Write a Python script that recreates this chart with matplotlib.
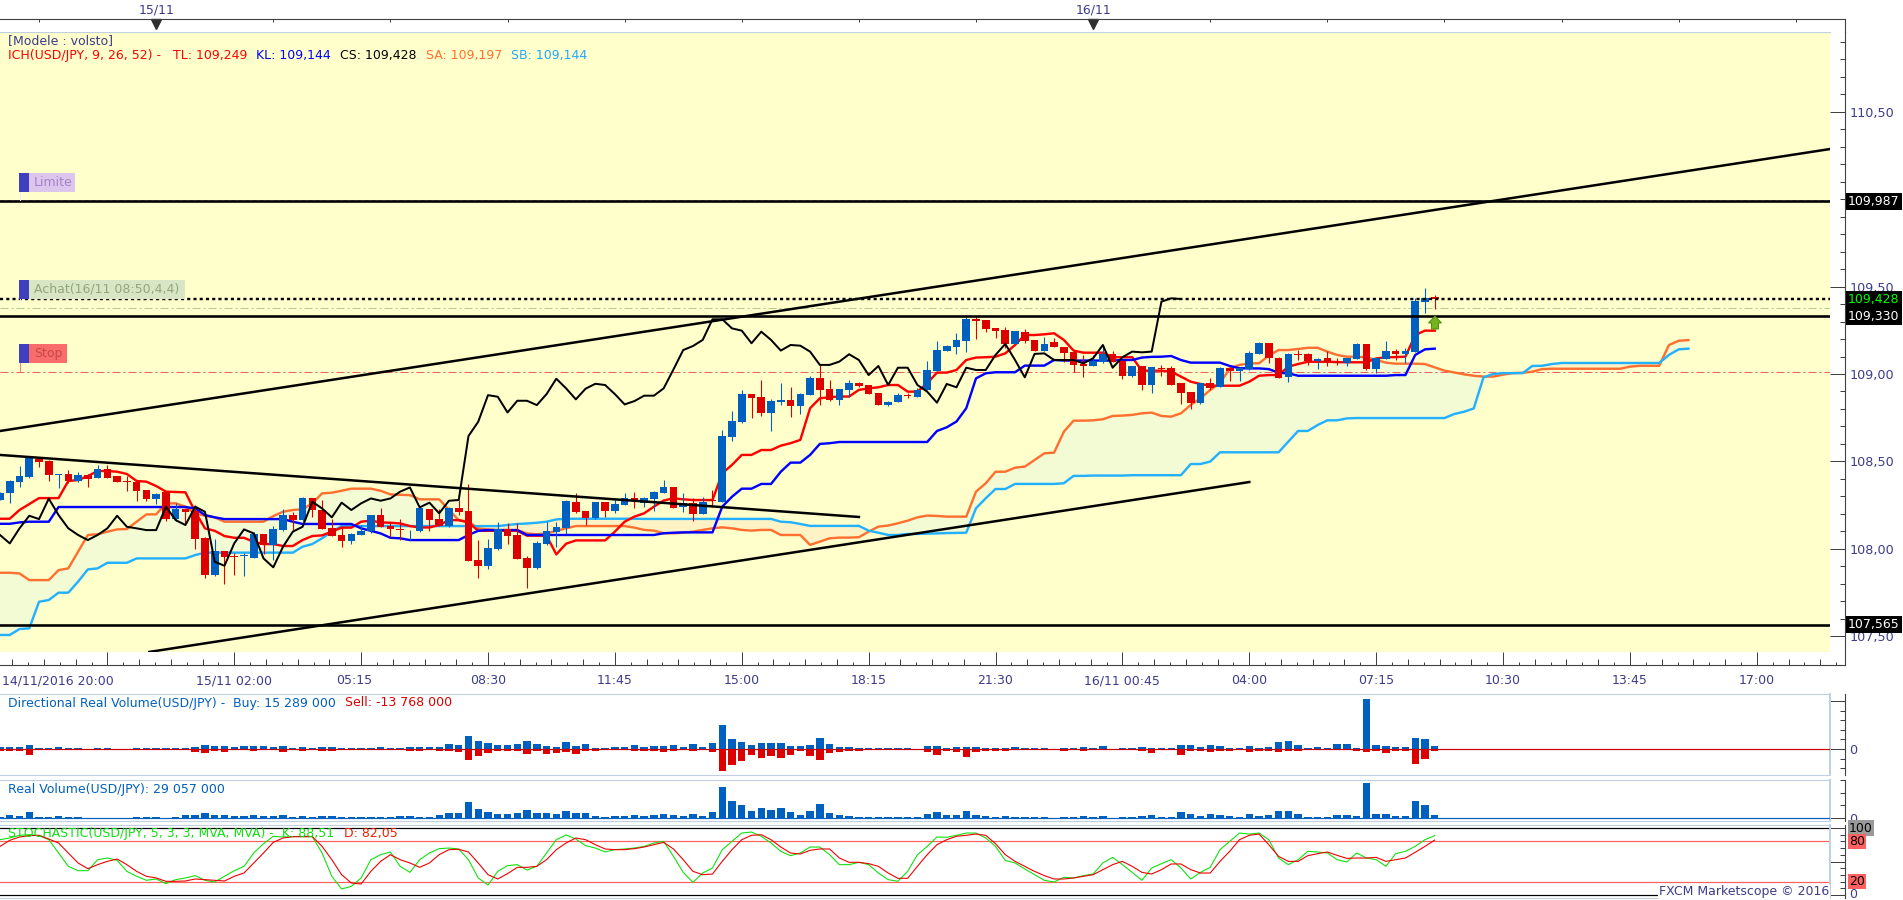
import numpy as np
import matplotlib
matplotlib.use("Agg")
import matplotlib.pyplot as plt
from matplotlib.patches import Rectangle, Polygon

W, H = 1903, 900
plt.rcParams['font.family'] = ['DejaVu Sans']

# ---------------- candles (USD/JPY 15 min) ----------------
candle_dir = ("BBBBRRBRBR" "BRRRRRBRBR" "RRBRRBBRBB" "RBRRRRBBBR" "RRBBRRBRRR"
              "BBRRRBBBBR" "RBRBBRBBBR" "BRBRBBBRRB" "BRBBRRBBRR" "RBBRBBBBBB"
              "RRRRBRRBRR" "RRBBRRBRBR" "RRRBRBRBBB" "RRBRRBRRBB" "RBBRBBBR")
candle_top = [
108.317,108.388,108.416,108.523,108.513,108.502,108.428,108.428,108.420,108.420,
108.454,108.454,108.416,108.388,108.384,108.336,108.313,108.323,108.227,108.227,
108.216,108.061,107.987,107.987,107.959,107.962,108.084,108.084,108.113,108.193,
108.193,108.290,108.290,108.224,108.117,108.079,108.084,108.102,108.191,108.193,
108.130,108.113,108.109,108.233,108.226,108.168,108.235,108.233,108.216,107.936,
108.004,108.111,108.111,108.079,107.947,108.033,108.102,108.124,108.273,108.267,
108.216,108.267,108.267,108.256,108.288,108.288,108.289,108.323,108.352,108.352,
108.264,108.264,108.270,108.279,108.644,108.729,108.884,108.884,108.869,108.846,
108.850,108.850,108.884,108.979,108.975,108.913,108.914,108.947,108.947,108.935,
108.890,108.842,108.878,108.878,108.911,109.021,109.138,109.160,109.193,109.315,
109.313,109.307,109.262,109.250,109.244,109.242,109.195,109.172,109.183,109.153,
109.128,109.059,109.073,109.115,109.115,109.075,109.044,109.044,109.038,109.036,
109.033,108.947,108.897,108.947,108.947,109.036,109.036,109.036,109.118,109.176,
109.176,109.090,109.112,109.116,109.112,109.084,109.089,109.070,109.089,109.170,
109.170,109.089,109.129,109.129,109.129,109.417,109.436,109.438]
candle_bottom = [
108.279,108.321,108.382,108.409,108.496,108.422,108.424,108.388,108.388,108.397,
108.405,108.405,108.382,108.380,108.330,108.285,108.285,108.168,108.168,108.212,
108.058,107.850,107.850,107.953,107.951,107.959,107.949,108.023,108.023,108.107,
108.164,108.164,108.224,108.115,108.073,108.046,108.046,108.081,108.100,108.126,
108.115,108.105,108.105,108.102,108.164,108.132,108.130,108.210,107.932,107.903,
107.903,107.999,108.075,107.943,107.890,107.890,108.027,108.096,108.119,108.210,
108.178,108.176,108.214,108.216,108.252,108.277,108.264,108.283,108.318,108.236,
108.241,108.199,108.199,108.274,108.270,108.640,108.726,108.865,108.777,108.779,
108.842,108.817,108.817,108.882,108.909,108.853,108.851,108.909,108.933,108.886,
108.825,108.823,108.840,108.872,108.869,108.909,109.017,109.134,109.157,109.189,
109.305,109.258,109.248,109.172,109.172,109.191,109.134,109.134,109.157,109.122,
109.054,109.048,109.046,109.067,109.071,108.989,108.989,108.937,108.935,109.031,
108.937,108.893,108.834,108.832,108.922,108.928,109.017,109.017,109.027,109.117,
109.092,108.979,108.981,109.109,109.074,109.076,109.070,109.061,109.061,109.086,
109.028,109.028,109.086,109.114,109.112,109.126,109.414,109.427]
candle_high = [
108.326,108.393,108.473,108.531,108.517,108.506,108.428,108.451,108.441,108.428,
108.479,108.479,108.416,108.416,108.388,108.336,108.317,108.327,108.260,108.231,
108.250,108.065,108.054,107.987,107.978,107.974,108.098,108.084,108.130,108.226,
108.212,108.298,108.290,108.279,108.168,108.126,108.092,108.136,108.193,108.231,
108.155,108.168,108.109,108.237,108.229,108.226,108.237,108.279,108.370,108.050,
108.054,108.155,108.149,108.149,107.959,108.046,108.155,108.155,108.279,108.317,
108.216,108.269,108.269,108.279,108.317,108.325,108.298,108.333,108.394,108.356,
108.318,108.289,108.298,108.337,108.680,108.789,108.909,108.884,108.966,108.855,
108.947,108.924,108.890,108.991,109.057,108.966,108.914,108.966,108.956,108.935,
108.890,108.848,108.893,108.893,108.918,109.075,109.187,109.166,109.233,109.328,
109.328,109.309,109.262,109.267,109.248,109.256,109.195,109.214,109.204,109.157,
109.138,109.109,109.109,109.166,109.132,109.080,109.046,109.046,109.042,109.052,
109.046,108.947,108.897,108.951,108.975,109.038,109.038,109.038,109.134,109.183,
109.180,109.095,109.118,109.137,109.118,109.089,109.131,109.089,109.093,109.175,
109.170,109.093,109.189,109.141,109.149,109.433,109.492,109.452]
candle_low = [
108.279,108.260,108.355,108.403,108.470,108.388,108.349,108.374,108.384,108.351,
108.403,108.403,108.382,108.332,108.275,108.275,108.256,108.161,108.161,108.149,
108.000,107.835,107.844,107.798,107.850,107.844,107.945,107.968,107.936,108.103,
108.107,108.161,108.180,108.111,108.073,108.012,108.027,108.079,108.092,108.126,
108.065,108.050,108.050,108.098,108.103,108.130,108.122,108.193,107.930,107.835,
107.884,107.993,108.027,107.939,107.777,107.886,108.023,108.012,108.084,108.206,
108.136,108.172,108.180,108.206,108.250,108.231,108.241,108.218,108.318,108.232,
108.213,108.161,108.199,108.241,108.266,108.617,108.722,108.747,108.762,108.676,
108.823,108.756,108.769,108.880,108.823,108.846,108.823,108.871,108.928,108.886,
108.825,108.819,108.838,108.865,108.867,108.907,109.015,109.132,109.115,109.128,
109.200,109.242,109.208,109.147,109.170,109.180,109.134,109.132,109.157,109.071,
109.014,108.985,109.046,109.061,109.067,108.974,108.985,108.909,108.890,108.989,
108.937,108.829,108.798,108.829,108.909,108.924,108.962,108.958,109.025,109.115,
109.061,108.975,108.956,109.080,109.051,109.028,109.046,109.051,109.046,109.084,
109.023,109.004,109.084,109.080,109.061,109.124,109.351,109.370]

# ---------------- Ichimoku lines ----------------
tenkan = [
108.172,108.172,108.222,108.256,108.290,108.290,108.290,108.388,108.393,108.416,
108.445,108.445,108.441,108.428,108.388,108.384,108.359,108.327,108.325,108.323,
108.212,108.117,108.103,108.073,108.063,108.063,108.040,108.027,108.027,108.016,
108.016,108.050,108.073,108.077,108.098,108.121,108.121,108.155,108.161,108.151,
108.149,108.145,108.130,108.122,108.122,108.136,108.164,108.164,108.151,108.103,
108.103,108.103,108.103,108.103,108.075,108.075,108.075,107.968,108.029,108.048,
108.048,108.048,108.048,108.098,108.155,108.184,108.203,108.241,108.276,108.289,
108.283,108.279,108.279,108.279,108.432,108.480,108.537,108.537,108.565,108.565,
108.590,108.604,108.623,108.804,108.861,108.867,108.871,108.871,108.909,108.918,
108.924,108.937,108.937,108.899,108.899,108.947,109.008,109.008,109.023,109.080,
109.094,109.096,109.099,109.118,109.166,109.223,109.223,109.227,109.233,109.195,
109.134,109.122,109.122,109.122,109.096,109.096,109.096,109.019,109.019,109.019,
109.014,108.985,108.956,108.943,108.933,108.933,108.933,108.933,108.956,108.990,
108.994,108.994,109.042,109.057,109.070,109.070,109.070,109.068,109.067,109.067,
109.067,109.089,109.095,109.097,109.099,109.223,109.248,109.248]
kijun = [
108.143,108.143,108.151,108.155,108.155,108.155,108.239,108.239,108.239,108.239,
108.239,108.239,108.239,108.239,108.239,108.239,108.239,108.239,108.239,108.239,
108.231,108.193,108.180,108.170,108.170,108.170,108.170,108.170,108.170,108.170,
108.155,108.142,108.142,108.142,108.142,108.142,108.142,108.117,108.103,108.088,
108.063,108.060,108.050,108.050,108.050,108.050,108.050,108.050,108.079,108.103,
108.107,108.107,108.107,108.107,108.079,108.079,108.079,108.079,108.079,108.079,
108.079,108.079,108.079,108.079,108.079,108.079,108.079,108.079,108.089,108.092,
108.094,108.094,108.094,108.094,108.241,108.298,108.344,108.344,108.371,108.371,
108.441,108.493,108.493,108.537,108.600,108.604,108.611,108.611,108.611,108.611,
108.611,108.611,108.611,108.611,108.611,108.611,108.674,108.695,108.728,108.804,
108.975,109.004,109.010,109.010,109.010,109.048,109.048,109.048,109.080,109.077,
109.077,109.077,109.077,109.077,109.077,109.080,109.080,109.094,109.098,109.099,
109.103,109.080,109.065,109.065,109.065,109.065,109.046,109.033,109.032,109.032,
109.028,109.007,109.004,108.990,108.990,108.990,108.990,108.990,108.990,108.990,
108.990,108.990,108.990,108.994,108.994,109.109,109.141,109.145]
chikou = [
108.079,108.031,108.117,108.189,108.170,108.287,108.193,108.117,108.079,108.050,
108.079,108.117,108.189,108.126,108.117,108.107,108.107,108.241,108.164,108.136,
108.241,108.212,107.926,107.903,108.031,108.111,108.088,107.945,107.894,108.012,
108.098,108.126,108.269,108.231,108.180,108.264,108.222,108.260,108.288,108.275,
108.288,108.327,108.351,108.237,108.264,108.203,108.275,108.279,108.645,108.727,
108.879,108.870,108.780,108.847,108.847,108.822,108.885,108.973,108.918,108.855,
108.916,108.944,108.937,108.885,108.826,108.845,108.876,108.876,108.918,109.026,
109.137,109.160,109.195,109.313,109.313,109.261,109.248,109.176,109.242,109.195,
109.134,109.166,109.162,109.128,109.052,109.052,109.071,109.113,109.080,108.994,
109.046,108.937,109.036,109.036,108.937,108.899,108.836,108.943,108.924,109.036,
109.023,109.023,109.109,109.172,109.080,108.981,109.115,109.118,109.080,109.080,
109.080,109.061,109.090,109.166,109.036,109.096,109.128,109.124,109.128,109.414,
109.433,109.429]
senkou_a = [
107.863,107.863,107.859,107.821,107.821,107.821,107.878,107.888,107.983,108.079,
108.083,108.098,108.111,108.113,108.155,108.197,108.197,108.260,108.260,108.241,
108.203,108.189,108.180,108.155,108.155,108.155,108.155,108.155,108.187,108.212,
108.222,108.226,108.260,108.317,108.321,108.332,108.344,108.344,108.344,108.332,
108.311,108.309,108.307,108.283,108.283,108.283,108.222,108.164,108.155,108.117,
108.111,108.107,108.107,108.107,108.088,108.083,108.088,108.103,108.117,108.130,
108.130,108.130,108.130,108.130,108.130,108.121,108.108,108.104,108.089,108.089,
108.092,108.098,108.108,108.117,108.123,108.117,108.108,108.104,108.108,108.108,
108.079,108.079,108.079,108.022,108.041,108.060,108.064,108.064,108.066,108.098,
108.127,108.133,108.146,108.161,108.180,108.190,108.188,108.184,108.184,108.184,
108.327,108.375,108.441,108.441,108.464,108.470,108.508,108.546,108.550,108.670,
108.733,108.733,108.735,108.741,108.760,108.762,108.766,108.775,108.779,108.760,
108.756,108.775,108.823,108.861,108.909,108.947,109.033,109.052,109.061,109.061,
109.105,109.137,109.137,109.143,109.150,109.150,109.128,109.109,109.099,109.099,
109.095,109.080,109.065,109.059,109.059,109.059,109.057,109.038,109.019,109.009,
108.998,108.990,108.985,108.985,108.996,109.005,109.007,109.013,109.028,109.030,
109.030,109.030,109.030,109.030,109.030,109.030,109.030,109.042,109.047,109.047,
109.047,109.166,109.190,109.194]
senkou_b = [
107.507,107.507,107.541,107.545,107.697,107.707,107.749,107.749,107.812,107.882,
107.888,107.920,107.920,107.920,107.945,107.945,107.945,107.945,107.945,107.945,
107.964,107.978,107.978,107.978,107.978,107.978,107.978,107.978,107.978,107.978,
107.978,108.012,108.027,108.060,108.098,108.130,108.130,108.130,108.130,108.130,
108.130,108.130,108.130,108.130,108.130,108.130,108.130,108.130,108.130,108.130,
108.130,108.130,108.136,108.142,108.145,108.149,108.155,108.168,108.172,108.172,
108.172,108.172,108.172,108.172,108.172,108.172,108.171,108.171,108.171,108.171,
108.171,108.171,108.171,108.171,108.171,108.171,108.171,108.171,108.171,108.171,
108.155,108.152,108.142,108.131,108.131,108.131,108.131,108.131,108.131,108.104,
108.092,108.079,108.079,108.085,108.085,108.087,108.088,108.090,108.091,108.092,
108.232,108.289,108.342,108.342,108.371,108.371,108.371,108.371,108.371,108.375,
108.417,108.417,108.419,108.419,108.419,108.419,108.421,108.421,108.421,108.421,
108.421,108.421,108.485,108.485,108.499,108.552,108.552,108.552,108.552,108.552,
108.552,108.552,108.613,108.674,108.674,108.708,108.735,108.735,108.746,108.748,
108.748,108.748,108.748,108.748,108.748,108.748,108.748,108.748,108.748,108.771,
108.784,108.803,108.981,109.000,109.005,109.005,109.005,109.046,109.047,109.057,
109.063,109.063,109.063,109.063,109.063,109.063,109.063,109.063,109.063,109.063,
109.063,109.109,109.141,109.145]

# ---------------- volumes (millions) ----------------
vol_buy = [
11,11,11,20,5,5,8,5,5,0, 5,5,0,0,5,5,5,5,5,5, 11,20,15,15,8,12,15,12,11,15,
5,8,5,11,11,5,5,5,5,11, 5,5,11,11,11,8,24,20,61,38, 29,20,20,24,38,24,15,8,34,15,
24,5,5,11,8,20,8,15,15,20, 11,24,11,29,112,47,34,20,29,29, 29,15,15,20,52,24,11,11,6,6,
6,6,6,6,0,15,15,6,11,11, 11,6,6,6,11,6,6,6,0,6, 6,11,6,15,0,6,6,11,6,6,
6,20,20,11,20,15,6,6,15,6, 11,34,38,20,6,11,6,24,24,6, 231,20,15,11,11,52,47,15]
vol_sell = [
8,8,8,26,0,0,0,0,0,0, 0,0,0,0,0,0,0,0,0,0, 12,17,8,12,6,0,11,0,0,12,
0,8,0,8,8,0,0,0,0,0, 0,0,8,8,0,11,11,15,49,31, 17,8,8,9,21,11,21,20,15,21,
8,8,0,0,0,8,8,8,12,8, 0,8,0,12,99,72,54,26,40,31, 40,26,8,31,49,17,12,8,8,0,
0,0,0,0,0,12,26,8,12,35, 12,8,8,8,0,0,0,0,0,8, 0,8,0,0,0,0,0,8,17,0,
0,26,8,8,12,8,8,0,12,8, 8,12,8,8,0,0,0,0,0,8, 12,8,17,8,8,67,44,8]
vol_total = [
9,29,20,55,9,9,20,9,9,0, 0,0,0,0,9,9,9,0,9,29, 29,46,29,29,20,20,29,20,20,29,
9,20,9,20,20,9,9,9,9,9, 9,20,20,9,9,29,46,46,142,81, 55,38,38,46,73,46,46,38,64,46,
46,20,9,20,20,29,20,29,38,29, 20,38,20,55,273,151,116,64,90,73, 90,55,29,64,125,46,29,20,9,9,
9,9,9,9,9,38,55,29,29,64, 29,20,9,20,9,9,9,9,0,9, 9,20,9,20,0,9,9,20,29,9,
9,55,38,20,38,29,20,9,38,20, 29,64,64,38,9,9,9,29,29,20, 305,38,38,20,20,151,116,29]

# ---------------- stochastic ----------------
stoch_k = [
82.6,85.1,89.1,90.0,88.6,82.6,62.7,42.8,36.3,36.3,
52.7,55.2,51.7,35.3,27.9,21.9,23.9,16.9,22.9,25.4,
28.9,21.9,19.4,27.9,36.3,42.8,62.7,76.6,87.6,86.6,
87.1,87.1,87.1,62.7,27.9,9.0,12.9,25.4,52.7,60.2,
64.2,42.8,33.8,52.7,62.7,69.2,70.1,68.7,52.7,25.4,
14.9,35.3,43.8,45.3,37.3,42.8,62.7,82.6,89.6,83.6,
73.6,70.1,64.2,67.7,68.7,70.1,72.6,77.6,80.1,57.7,
33.8,18.9,
32.8,40.3,67.7,80.1,92.5,94.0,87.6,77.6,65.2,58.7,62.7,71.6,71.6,60.2,45.3,45.3,48.8,45.3,
32.8,22.9,20.4,35.3,60.2,72.6,86.6,86.1,89.1,92.5,92.5,85.1,72.6,51.7,47.8,38.8,30.3,21.9,
19.4,26.4,25.4,28.9,31.3,47.8,56.2,45.3,33.8,21.9,40.3,46.8,52.7,40.3,23.9,33.8,41.3,67.7,
80.1,92.5,91.0,92.5,82.6,55.2,45.3,52.7,65.2,64.2,62.7,52.7,49.3,62.7,55.2,52.7,42.8,61.7,
65.2,72.6,82.6,88.6]
stoch_d = [
72.6,81.6,86.6,88.6,89.1,83.6,77.6,62.7,47.8,39.3,
45.3,50.2,53.7,45.3,35.3,27.9,25.4,20.4,20.4,20.9,
23.9,22.9,21.9,20.9,27.9,32.8,47.8,62.7,78.6,85.1,
87.1,87.1,87.1,72.6,52.7,30.3,17.9,16.4,35.3,50.2,
60.2,52.7,47.8,41.3,47.8,60.2,67.7,68.2,64.2,47.8,
30.3,23.9,31.8,41.3,41.3,42.8,52.7,67.7,77.6,85.1,
82.6,75.1,68.7,67.7,67.7,69.2,71.6,75.1,78.6,68.7,
52.7,35.3,
30.3,31.3,50.2,67.7,82.6,89.1,90.0,82.6,71.6,62.7,61.2,66.7,68.7,68.7,55.2,48.8,48.8,46.8,
42.8,32.8,24.9,24.9,42.8,60.2,75.1,82.6,87.6,89.1,91.0,89.1,76.6,60.2,50.2,42.8,35.3,28.9,
23.9,23.9,25.4,27.9,30.3,37.8,45.3,50.2,42.8,33.8,31.3,37.8,46.3,46.3,37.8,32.8,32.8,50.2,
65.2,82.6,89.1,91.0,75.1,57.7,50.2,50.2,58.7,61.7,64.2,59.2,54.7,55.2,55.2,56.2,50.2,52.7,
55.2,63.7,72.6,82.0]

# ---------------- trend lines, levels, labels ----------------
trend_upper_x, trend_upper_y = [0, 187.5], [108.674, 110.287]
trend_down_x, trend_down_y = [0, 88], [108.537, 108.182]
trend_lower_x, trend_lower_y = [15.3, 128], [107.41, 108.382]
level_limit, level_entry, level_close, level_sl = 109.987, 109.330, 109.428, 107.565
level_limit_order, level_entry_order, level_stop_order = 109.993, 109.379, 109.013
price_ticks = [110.5, 109.5, 109.0, 108.5, 108.0, 107.5]
price_tick_labels = ["110,50", "109,50", "109,00", "108,50", "108,00", "107,50"]
time_label_pos = [24, 36.3, 50, 63, 76, 89, 102, 115, 128, 141, 154, 167, 180]
time_labels = ["15/11 02:00", "05:15", "08:30", "11:45", "15:00", "18:15", "21:30",
               "16/11 00:45", "04:00", "07:15", "10:30", "13:45", "17:00"]
major_time_ticks = [11, 24, 37, 50, 63, 76, 89, 102, 115, 128, 141, 154, 167, 180]
day_markers, day_labels = [16, 112], ["15/11", "16/11"]

assert len(candle_dir) == len(candle_top) == len(candle_bottom) == len(candle_high) == len(candle_low) == 148
assert len(tenkan) == len(kijun) == 148 and len(chikou) == 122
assert len(senkou_a) == len(senkou_b) == 174
assert len(vol_buy) == len(vol_sell) == len(vol_total) == 148
assert len(stoch_k) == len(stoch_d) == 148

# ---------------- layout helpers ----------------
PX = 0.72
BAR_PX = 9.76
DARK = "#404040"
LAB = "#3c3c8c"
EDGE = "#c0d0e0"
BLUE_B = "#0060c0"
RED_B = "#dd0000"
fig = plt.figure(figsize=(W / 100, H / 100), dpi=100, facecolor="white")

def px_axes(l, t, r, b, **kw):
    return fig.add_axes([l / W, 1 - b / H, (r - l) / W, (b - t) / H], **kw)

def ftext(x, y, s, color=LAB, size=9, **kw):
    kw.setdefault("va", "center")
    return fig.text(x / W, 1 - y / H, s, color=color, fontsize=size, **kw)

def frect(l, t, r, b, color, **kw):
    fig.add_artist(Rectangle((l / W, 1 - b / H), (r - l) / W, (b - t) / H,
                             transform=fig.transFigure, fc=color, ec="none", **kw))

XMAX = 1830 / BAR_PX

# ---------------- main panel ----------------
ax = px_axes(0, 32, 1830, 652, facecolor="#ffffcc")
ax.set_xlim(0, XMAX)
ax.set_ylim(109 - 278 / 174.8, 109 + 342 / 174.8)
x_s = np.arange(len(senkou_a))
sa, sb = np.array(senkou_a), np.array(senkou_b)
ax.fill_between(x_s, sa, sb, where=sa >= sb, interpolate=True, color="#f2fbd4", lw=0, zorder=1)
ax.fill_between(x_s, sa, sb, where=sa < sb, interpolate=True, color="#fff3c6", lw=0, zorder=1)
ax.plot(x_s, senkou_a, color="#ff7030", lw=2.4 * PX, zorder=2)
ax.plot(x_s, senkou_b, color="#22b0ff", lw=2.4 * PX, zorder=2)
ax.plot(tenkan, color="#ff0000", lw=2.4 * PX, zorder=2.1)
ax.plot(kijun, color="#0000ff", lw=2.4 * PX, zorder=2.1)

x_c = np.arange(148)
colors = [BLUE_B if d == "B" else RED_B for d in candle_dir]
ax.vlines(x_c, candle_low, candle_high, colors=colors, lw=1.1 * PX, zorder=3)
ax.bar(x_c, np.array(candle_top) - np.array(candle_bottom), bottom=candle_bottom,
       width=7.6 / BAR_PX, color=colors, lw=0, zorder=3.1)
ax.plot(chikou, color="black", lw=2.0 * PX, zorder=3.5)

ax.plot(trend_upper_x, trend_upper_y, color="black", lw=2.5 * PX, zorder=4)
ax.plot(trend_down_x, trend_down_y, color="black", lw=2.5 * PX, zorder=4)
ax.plot(trend_lower_x, trend_lower_y, color="black", lw=2.5 * PX, zorder=4)
for lv in (level_limit, level_entry, level_sl):
    ax.axhline(lv, color="black", lw=2.6 * PX, zorder=4)
ax.axhline(level_close, color="black", lw=2.4 * PX, ls=(0, (1.3, 1.3)), zorder=4)
ax.axhline(level_limit_order, color="#c8a0e8", lw=1 * PX, ls=(0, (4, 3)), zorder=1.5)
ax.axhline(level_entry_order, color="#b4cc94", lw=1 * PX, ls=(0, (8, 3, 2, 3)), zorder=1.5)
ax.axhline(level_stop_order, color="#f06060", lw=1 * PX, ls=(0, (8, 3, 2, 3)), zorder=1.5)

ax.set_xticks([])
ax.spines["left"].set_visible(False)
ax.spines["top"].set_color(EDGE)
ax.spines["bottom"].set_color(EDGE)
ax.spines["right"].set_position(("outward", 15 * PX))
ax.spines["right"].set_color(DARK)
ax.yaxis.tick_right()
ax.set_yticks(price_ticks)
ax.set_yticklabels(price_tick_labels)
ax.set_yticks(np.arange(107.5, 110.95, 0.1), minor=True)
ax.tick_params(axis="y", which="major", direction="in", length=15 * PX, width=1 * PX,
               color=DARK, labelcolor=LAB, labelsize=9.2, pad=3)
ax.tick_params(axis="y", which="minor", direction="in", length=5 * PX, width=1 * PX, color=DARK)

tag_tr = ax.get_yaxis_transform()
for lv, lab, col in ((level_limit, "109,987", "white"), (level_close, "109,428", "#00ff00"),
                     (level_entry, "109,330", "white"), (level_sl, "107,565", "white")):
    ax.text(1848 / 1830, lv, lab, transform=tag_tr, color=col, fontsize=9, ha="left", va="center",
            clip_on=False, zorder=10, bbox=dict(fc="black", ec="none", pad=1.4))

# ---------------- top strip ----------------
top = px_axes(0, 19, 1845, 32, facecolor="white")
top.set_xlim(0, 1845 / BAR_PX)
top.set_ylim(0, 13)
top.set_yticks([])
top.xaxis.tick_top()
top.set_xticks(np.arange(4, 190, 12))
top.tick_params(axis="x", direction="in", length=3 * PX, width=1 * PX, color=DARK, labeltop=False)
for s in ("left", "bottom"):
    top.spines[s].set_visible(False)
top.spines["top"].set_color(DARK)
top.spines["right"].set_color(DARK)
top.plot(day_markers, [8, 8], ls="none", marker="v", color="#303030", ms=9 * PX * 1.2, clip_on=False)
for d, lab in zip(day_markers, day_labels):
    ftext(d * BAR_PX, 10, lab, ha="center")

# ---------------- bottom time strip ----------------
bot = px_axes(0, 652, 1845, 665, facecolor="white")
bot.set_xlim(0, 1845 / BAR_PX)
bot.set_ylim(0, 13)
bot.set_yticks([])
bot.set_xticks([])
k = np.arange(-8, 140)
pos = 11 + k * 13 / 8
bot.vlines(pos[k % 2 == 0], 0, 6, color=DARK, lw=1 * PX)
bot.vlines(pos[k % 2 == 1], 0, 3, color=DARK, lw=1 * PX)
bot.vlines(major_time_ticks, 0, 13, color=DARK, lw=1 * PX)
for s in ("left", "top"):
    bot.spines[s].set_visible(False)
bot.spines["bottom"].set_color(DARK)
bot.spines["right"].set_color(DARK)
ftext(2, 681, "14/11/2016 20:00")
for p, lab in zip(time_label_pos, time_labels):
    ftext(p * BAR_PX, 681, lab, ha="center")

# ---------------- indicator panels ----------------
def panel(t, b, ymin, ymax):
    a = px_axes(0, t, 1830, b, facecolor="white")
    a.set_xlim(0, XMAX)
    a.set_ylim(ymin, ymax)
    a.set_xticks([])
    a.spines["left"].set_visible(False)
    a.spines["top"].set_color(EDGE)
    a.spines["bottom"].set_color(EDGE)
    a.spines["right"].set_position(("outward", 15 * PX))
    a.spines["right"].set_color(DARK)
    a.axvline(XMAX, color=EDGE, lw=2 * PX, clip_on=False)
    a.yaxis.tick_right()
    a.tick_params(axis="y", which="major", direction="in", length=15 * PX, width=1 * PX,
                  color=DARK, labelcolor=LAB, labelsize=9.2, pad=3)
    a.tick_params(axis="y", which="minor", direction="in", length=5 * PX, width=1 * PX, color=DARK)
    return a

p1 = panel(694, 775, -26 / 0.218, 55 / 0.218)
p1.bar(x_c, vol_buy, width=7.4 / BAR_PX, color=BLUE_B, lw=0, zorder=2)
p1.bar(x_c, -np.array(vol_sell), width=7.4 / BAR_PX, color=RED_B, lw=0, zorder=2)
p1.axhline(0, color="#cc0000", lw=1.2 * PX, zorder=3)
p1.set_yticks([0, 219], ["0", ""])
p1.set_yticks([-88, -44, 44, 88, 131, 175], minor=True)

p2 = panel(780, 821, -3 / 0.115, 38 / 0.115)
p2.bar(x_c, vol_total, width=7.4 / BAR_PX, color=BLUE_B, lw=0, zorder=2)
p2.axhline(0, color=BLUE_B, lw=1.2 * PX, zorder=3)
p2.set_yticks([0], ["0"])
p2.set_yticks([109, 218, 327], minor=True)

p3 = panel(825, 898, -4.5, 104.5)
p3.axhline(100, color="black", lw=1.2 * PX, zorder=1)
p3.axhline(0, color="black", lw=1.2 * PX, zorder=1)
p3.axhline(80, color="#ff6060", lw=1.2 * PX, zorder=1)
p3.axhline(20, color="#ff6060", lw=1.2 * PX, zorder=1)
p3.plot(stoch_k, color="#10e010", lw=1.1 * PX, zorder=2)
p3.plot(stoch_d, color="#ee0000", lw=1.1 * PX, zorder=3)
p3.set_yticks([0, 50, 100], ["", "", ""])
p3.set_yticks(np.arange(10, 100, 10), minor=True)
tr3 = p3.get_yaxis_transform()
for val, lab, bg in ((100, "100", "#999999"), (80, "80", "#ff6060"), (20, "20", "#ff6060")):
    p3.text(1849 / 1830, val, lab, transform=tr3, color="black", fontsize=9, ha="left", va="center",
            clip_on=False, zorder=10, bbox=dict(fc=bg, ec="none", pad=0.8))
p3.text(1849 / 1830, 0, "0", transform=tr3, color=LAB, fontsize=9, ha="left", va="center",
        clip_on=False, zorder=10)

# ---------------- legend texts ----------------
ftext(8, 41, "[Modele : volsto]")
ftext(8, 55, "ICH(USD/JPY, 9, 26, 52) -", "#ff0000")
ftext(173, 55, "TL: 109,249", "#ff0000")
ftext(256, 55, "KL: 109,144", "#0000ff")
ftext(340, 55, "CS: 109,428", "black")
ftext(426, 55, "SA: 109,197", "#ff7030")
ftext(511, 55, "SB: 109,144", "#22a8ff")
ftext(8, 703, "Directional Real Volume(USD/JPY) -", BLUE_B)
ftext(233, 703, "Buy: 15 289 000", BLUE_B)
ftext(345, 703, "Sell: -13 768 000", RED_B)
ftext(8, 789, "Real Volume(USD/JPY): 29 057 000", BLUE_B)
ftext(8, 833, "STOCHASTIC(USD/JPY, 5, 3, 3, MVA, MVA) -  K: 88,51", "#10e010")
ftext(344, 833, "D: 82,05", "#ee2000")
ftext(1829, 892, "FXCM Marketscope \u00a9 2016", LAB, ha="right",
      bbox=dict(fc="white", ec="none", pad=0.5))

# ---------------- order flags ----------------
def flag(t, b, r, box_col, txt, txt_col, base, stem_col):
    fig.add_artist(plt.Line2D([19.5 / W, 19.5 / W], [1 - b / H, 1 - base / H],
                              transform=fig.transFigure, color=stem_col, lw=1 * PX))
    frect(19, t, 29, b, "#3f3fbf")
    frect(29, t, r, b, box_col)
    ftext(34, (t + b) / 2, txt, txt_col)

flag(173, 192, 75, "#dcc6ee", "Limite", "#a882c8", 200, "#eeeeff")
flag(280, 299, 185, "#d8e6c6", "Achat(16/11 08:50,4,4)", "#92a878", 307, "#eeffee")
flag(344, 363, 67, "#f96c6c", "Stop", "#c84848", 371, "#f08090")

# ---------------- buy arrow ----------------
cx = 1435
fig.add_artist(Polygon([((cx + dx) / W, 1 - y / H) for dx, y in
                        ((0, 316), (6.5, 323), (3.5, 323), (3.5, 329), (-3.5, 329), (-3.5, 323), (-6.5, 323))],
                       closed=True, transform=fig.transFigure, fc="#74b41c", ec="#4c8c10", lw=0.7))

fig.savefig("out.png", dpi=100, facecolor="white")
